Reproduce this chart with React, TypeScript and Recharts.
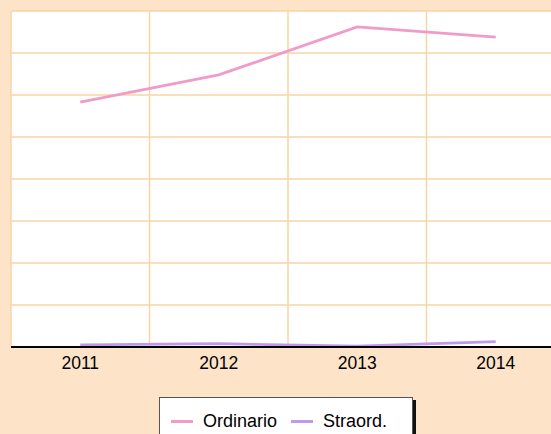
import { LineChart, Line, XAxis, YAxis, CartesianGrid } from "recharts";

const YEARS = ["2011", "2012", "2013", "2014"];
const ORDINARIO = [5830, 6480, 7620, 7380];
const STRAORD = [50, 80, 20, 130];
const Y_TICKS = [0, 1000, 2000, 3000, 4000, 5000, 6000, 7000, 8000];

const SERIES = [
  { key: "ordinario", name: "Ordinario", color: "#f09cc8" },
  { key: "straord", name: "Straord.", color: "#c198ef" },
];

const data = YEARS.map((year, i) => ({
  year,
  ordinario: ORDINARIO[i],
  straord: STRAORD[i],
}));

const FONT = '"Liberation Sans", Arial, sans-serif';
const BG = "#fde4c8";
const GRID = "#f7d5a6";

export default function App() {
  // grid lines sit on the band edges, not on the category centres
  const bandEdges = ({ offset }: any) =>
    [0, 1, 2, 3, 4].map((i) => offset.left + (i * offset.width) / YEARS.length);

  return (
    <div
      style={{
        position: "fixed",
        top: 0,
        left: 0,
        width: 551,
        height: 434,
        overflow: "hidden",
        background: BG,
        fontFamily: FONT,
      }}
    >
      <LineChart
        width={570}
        height={434}
        data={data}
        margin={{ top: 11, right: 5, bottom: 57, left: 11 }}
      >
        <CartesianGrid
          fill="#ffffff"
          stroke={GRID}
          strokeWidth={1.5}
          verticalCoordinatesGenerator={bandEdges}
        />
        <XAxis
          dataKey="year"
          scale="band"
          height={30}
          axisLine={{ stroke: "#000", strokeWidth: 2 }}
          tickLine={false}
          tickMargin={4}
          tick={{ fill: "#000", fontSize: 17.5, fontFamily: FONT }}
          interval={0}
        />
        <YAxis hide domain={[0, 8000]} ticks={Y_TICKS} />
        {SERIES.map((s) => (
          <Line
            key={s.key}
            dataKey={s.key}
            name={s.name}
            stroke={s.color}
            strokeWidth={2.8}
            dot={false}
            activeDot={false}
            isAnimationActive={false}
          />
        ))}
      </LineChart>
      <div
        style={{
          position: "absolute",
          left: 159,
          top: 397,
          width: 254,
          height: 50,
          background: "#fff",
          border: "1px solid #555",
          boxShadow: "3px 3px 0 #111",
          display: "flex",
          alignItems: "flex-start",
          paddingTop: 13,
          paddingLeft: 11,
          boxSizing: "border-box",
        }}
      >
        {SERIES.map((s) => (
          <div
            key={s.key}
            style={{ display: "flex", alignItems: "center", height: 20, marginRight: 14 }}
          >
            <div style={{ width: 22, height: 3, background: s.color, marginRight: 10 }} />
            <span style={{ fontSize: 18, color: "#000", lineHeight: "20px" }}>{s.name}</span>
          </div>
        ))}
      </div>
    </div>
  );
}
